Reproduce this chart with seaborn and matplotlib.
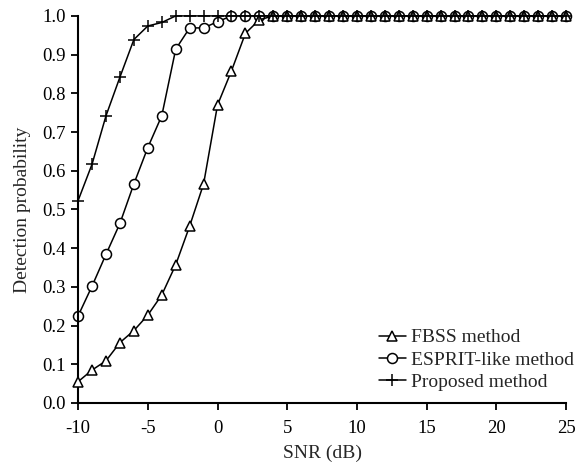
import numpy as np
import pandas as pd
import matplotlib
matplotlib.use("Agg")
import matplotlib.pyplot as plt
import seaborn as sns

# SNR grid (dB), one point per dB
snr = list(range(-10, 26))

fbss = [0.055, 0.085, 0.109, 0.156, 0.187, 0.227, 0.279, 0.357, 0.457, 0.566,
        0.770, 0.858, 0.955, 0.990] + [1.0] * 22
esprit = [0.225, 0.302, 0.384, 0.464, 0.566, 0.660, 0.742, 0.914, 0.969, 0.969,
          0.985] + [1.0] * 25
proposed = [0.523, 0.617, 0.742, 0.842, 0.939, 0.974, 0.983] + [1.0] * 29

labels = ["FBSS method", "ESPRIT-like method", "Proposed method"]
markers = ["^", "o", "+"]
# circles sit underneath the triangles where the curves merge at 1.0
zorders = [3, 2, 4]

sns.set_style("ticks")
plt.rcParams["font.family"] = ["Liberation Serif", "DejaVu Serif"]
plt.rcParams["axes.unicode_minus"] = False

fig = plt.figure(figsize=(5.83, 4.68), dpi=100)
ax = fig.add_axes([0.134, 0.139, 0.837, 0.827])

handles = []
for vals, lab, mk, zo in zip([fbss, esprit, proposed], labels, markers, zorders):
    df = pd.DataFrame({"snr": snr, "p": vals})
    sns.lineplot(data=df, x="snr", y="p", ax=ax, color="black", lw=1.1,
                 marker=mk, ms=7.2 if mk != "+" else 8, mfc="white", mec="black",
                 mew=1.1, label=lab, legend=False, clip_on=False, zorder=zo)
    handles.append(ax.get_lines()[-1])

ax.set_xlim(-10, 25)
ax.set_ylim(0, 1)
ax.set_xticks(np.arange(-10, 26, 5))
ax.set_yticks(np.arange(0, 1.01, 0.1))
ax.set_yticklabels([f"{v:.1f}" for v in np.arange(0, 1.01, 0.1)])
ax.set_xlabel("SNR (dB)", fontsize=14, labelpad=6)
ax.set_ylabel("Detection probability", fontsize=14, labelpad=8)
ax.tick_params(axis="both", labelsize=13.5, direction="out", length=5, width=1.3,
               colors="black")
ax.tick_params(axis="x", pad=7)
ax.tick_params(axis="y", pad=4)
for s in ["top", "right"]:
    ax.spines[s].set_visible(False)
for s in ["left", "bottom"]:
    ax.spines[s].set_linewidth(1.5)
    ax.spines[s].set_color("black")

ax.legend(handles=handles, labels=labels, loc="lower right", frameon=False,
          fontsize=14, handlelength=1.4, handletextpad=0.25, labelspacing=0.25,
          borderaxespad=0.2, bbox_to_anchor=(1.04, 0.0))

fig.savefig("out.png", dpi=100)
